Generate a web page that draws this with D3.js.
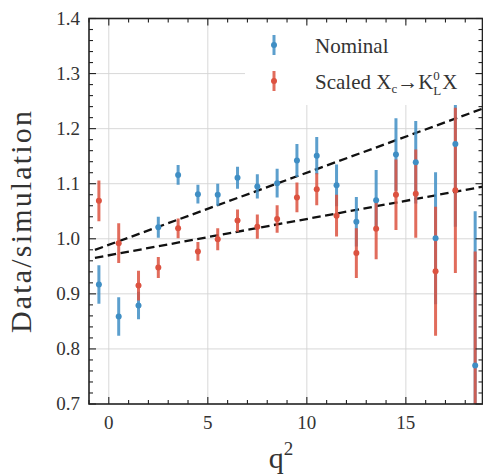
<!DOCTYPE html>
<html>
<head>
<meta charset="utf-8">
<script src="https://cdn.jsdelivr.net/npm/d3@7"></script>
<style>
  html, body { margin: 0; padding: 0; background: #fff; }
  svg { display: block; }
  text { font-family: "Liberation Serif", "DejaVu Serif", serif; fill: #333; }
</style>
</head>
<body>
<svg id="chart" width="483" height="476"></svg>
<script>
// q^2 bin centres
const qBins = [-0.5, 0.5, 1.5, 2.5, 3.5, 4.5, 5.5, 6.5, 7.5, 8.5,
               9.5, 10.5, 11.5, 12.5, 13.5, 14.5, 15.5, 16.5, 17.5, 18.5];

// Nominal data/simulation ratio and its uncertainty
const nominal    = [0.917, 0.859, 0.879, 1.021, 1.116, 1.081, 1.080, 1.111, 1.095, 1.101,
                    1.142, 1.151, 1.097, 1.031, 1.070, 1.153, 1.139, 1.001, 1.172, 0.770];
const nominalErr = [0.035, 0.035, 0.025, 0.019, 0.018, 0.017, 0.020, 0.020, 0.022, 0.026,
                    0.030, 0.034, 0.038, 0.045, 0.055, 0.066, 0.075, 0.120, 0.150, 0.280];

// Ratio after scaling the X_c -> K_L^0 X component
const scaled     = [1.069, 0.992, 0.915, 0.948, 1.019, 0.977, 0.999, 1.033, 1.022, 1.036,
                    1.075, 1.090, 1.042, 0.974, 1.018, 1.080, 1.082, 0.941, 1.088, 0.687];
const scaledErr  = [0.037, 0.036, 0.027, 0.019, 0.018, 0.017, 0.020, 0.020, 0.022, 0.025,
                    0.027, 0.029, 0.038, 0.045, 0.055, 0.064, 0.080, 0.117, 0.150, 0.290];

// Linear fits: [intercept at q^2 = 0, slope]
const nominalFit = [0.989, 0.0131];
const scaledFit  = [0.970, 0.0066];
const fitRange   = [-0.7, 19];

const xTicks = [0, 5, 10, 15];
const yTicks = [0.7, 0.8, 0.9, 1.0, 1.1, 1.2, 1.3, 1.4];

const seriesColor = { nominal: "#3f8ec4", scaled: "#dc5240" };

const svg = d3.select("#chart");
const plot = { left: 89, right: 482.5, top: 18.5, bottom: 404 };

const x = d3.scaleLinear().domain([-1, 18.87]).range([plot.left, plot.right]);
const y = d3.scaleLinear().domain([0.7, 1.4]).range([plot.bottom, plot.top]);

svg.append("defs").append("clipPath").attr("id", "plot-clip")
  .append("rect")
  .attr("x", plot.left).attr("y", plot.top)
  .attr("width", plot.right - plot.left).attr("height", plot.bottom - plot.top);

// grid
const grid = svg.append("g").attr("stroke", "#d4d4d4").attr("stroke-width", 0.9);
grid.selectAll(".gx").data(xTicks).join("line")
  .attr("x1", d => x(d)).attr("x2", d => x(d))
  .attr("y1", plot.top).attr("y2", plot.bottom);
grid.selectAll(".gy").data(yTicks.slice(1, -1)).join("line")
  .attr("x1", plot.left).attr("x2", plot.right)
  .attr("y1", d => y(d)).attr("y2", d => y(d));

const body = svg.append("g").attr("clip-path", "url(#plot-clip)");

// fit lines
const fitLine = d3.line().x(d => x(d[0])).y(d => y(d[1]));
[nominalFit, scaledFit].forEach(f => {
  body.append("path")
    .datum(fitRange.map(q => [q, f[0] + f[1] * q]))
    .attr("d", fitLine)
    .attr("fill", "none")
    .attr("stroke", "#111")
    .attr("stroke-width", 2.3)
    .attr("stroke-dasharray", "8.5,4.5");
});

const series = [
  { key: "nominal", vals: nominal, errs: nominalErr },
  { key: "scaled",  vals: scaled,  errs: scaledErr }
];

// error bars first, markers on top
series.forEach(s => {
  body.append("g").selectAll("line")
    .data(qBins.map((q, i) => ({ q, v: s.vals[i], e: s.errs[i] })))
    .join("line")
    .attr("x1", d => x(d.q)).attr("x2", d => x(d.q))
    .attr("y1", d => y(d.v - d.e)).attr("y2", d => y(d.v + d.e))
    .attr("stroke", seriesColor[s.key])
    .attr("stroke-opacity", 0.85)
    .attr("stroke-width", 3);
});
series.forEach(s => {
  body.append("g").selectAll("circle")
    .data(qBins.map((q, i) => ({ q, v: s.vals[i] })))
    .join("circle")
    .attr("cx", d => x(d.q)).attr("cy", d => y(d.v))
    .attr("r", 3)
    .attr("fill", seriesColor[s.key]);
});

// legend
const legend = svg.append("g");
legend.append("rect")
  .attr("x", 245).attr("y", 22).attr("width", 233).attr("height", 83)
  .attr("fill", "#fff");
const legendRows = [
  { key: "nominal", y: 45 },
  { key: "scaled",  y: 81 }
];
legendRows.forEach(r => {
  legend.append("line")
    .attr("x1", 274).attr("x2", 274)
    .attr("y1", r.y - 10).attr("y2", r.y + 10)
    .attr("stroke", seriesColor[r.key]).attr("stroke-opacity", 0.85)
    .attr("stroke-width", 3);
  legend.append("circle")
    .attr("cx", 274).attr("cy", r.y).attr("r", 3)
    .attr("fill", seriesColor[r.key]);
});
legend.append("text")
  .attr("x", 315).attr("y", 53)
  .attr("font-size", 21)
  .text("Nominal");
const lt = legend.append("text")
  .attr("x", 315).attr("y", 89)
  .attr("font-size", 21);
lt.append("tspan").text("Scaled X");
lt.append("tspan").attr("font-size", 13).attr("dy", 4).text("c");
lt.append("tspan").attr("dy", -4).text("→K");
lt.append("tspan").attr("font-size", 13).attr("dy", -9).text("0");
lt.append("tspan").attr("font-size", 13).attr("dx", -6.5).attr("dy", 15).text("L");
lt.append("tspan").attr("dy", -6).attr("dx", 1).text("X");

// ticks (inward, all four sides)
const tickG = svg.append("g").attr("stroke", "#222").attr("stroke-width", 1.1);
const xMinor = d3.range(-1, 19, 1).filter(v => v % 5 !== 0);
const yMinor = d3.range(0.72, 1.4, 0.02).filter(v => Math.abs(v * 10 - Math.round(v * 10)) > 1e-6);
function hTicks(vals, len) {
  vals.forEach(v => {
    tickG.append("line").attr("x1", x(v)).attr("x2", x(v))
      .attr("y1", plot.bottom).attr("y2", plot.bottom - len);
    tickG.append("line").attr("x1", x(v)).attr("x2", x(v))
      .attr("y1", plot.top).attr("y2", plot.top + len);
  });
}
function vTicks(vals, len) {
  vals.forEach(v => {
    tickG.append("line").attr("y1", y(v)).attr("y2", y(v))
      .attr("x1", plot.left).attr("x2", plot.left + len);
    tickG.append("line").attr("y1", y(v)).attr("y2", y(v))
      .attr("x1", plot.right).attr("x2", plot.right - len);
  });
}
hTicks(xTicks, 7); hTicks(xMinor, 4);
vTicks(yTicks, 7); vTicks(yMinor, 4);

// frame
svg.append("rect")
  .attr("x", plot.left).attr("y", plot.top)
  .attr("width", plot.right - plot.left).attr("height", plot.bottom - plot.top)
  .attr("fill", "none").attr("stroke", "#222").attr("stroke-width", 1.6);

// tick labels
svg.append("g").selectAll("text").data(xTicks).join("text")
  .attr("x", d => x(d)).attr("y", 429)
  .attr("text-anchor", "middle").attr("font-size", 19)
  .text(d => d);
svg.append("g").selectAll("text").data(yTicks).join("text")
  .attr("x", 80).attr("y", d => y(d) + 6)
  .attr("text-anchor", "end").attr("font-size", 19)
  .text(d => d3.format(".1f")(d));

// axis titles
const xt = svg.append("text")
  .attr("x", 281).attr("y", 468)
  .attr("text-anchor", "middle").attr("font-size", 30);
xt.append("tspan").text("q");
xt.append("tspan").attr("font-size", 19).attr("dy", -13).text("2");

svg.append("text")
  .attr("transform", "translate(31,222) rotate(-90)")
  .attr("text-anchor", "middle").attr("font-size", 30)
  .attr("textLength", 222).attr("lengthAdjust", "spacing")
  .text("Data/simulation");
</script>
</body>
</html>
